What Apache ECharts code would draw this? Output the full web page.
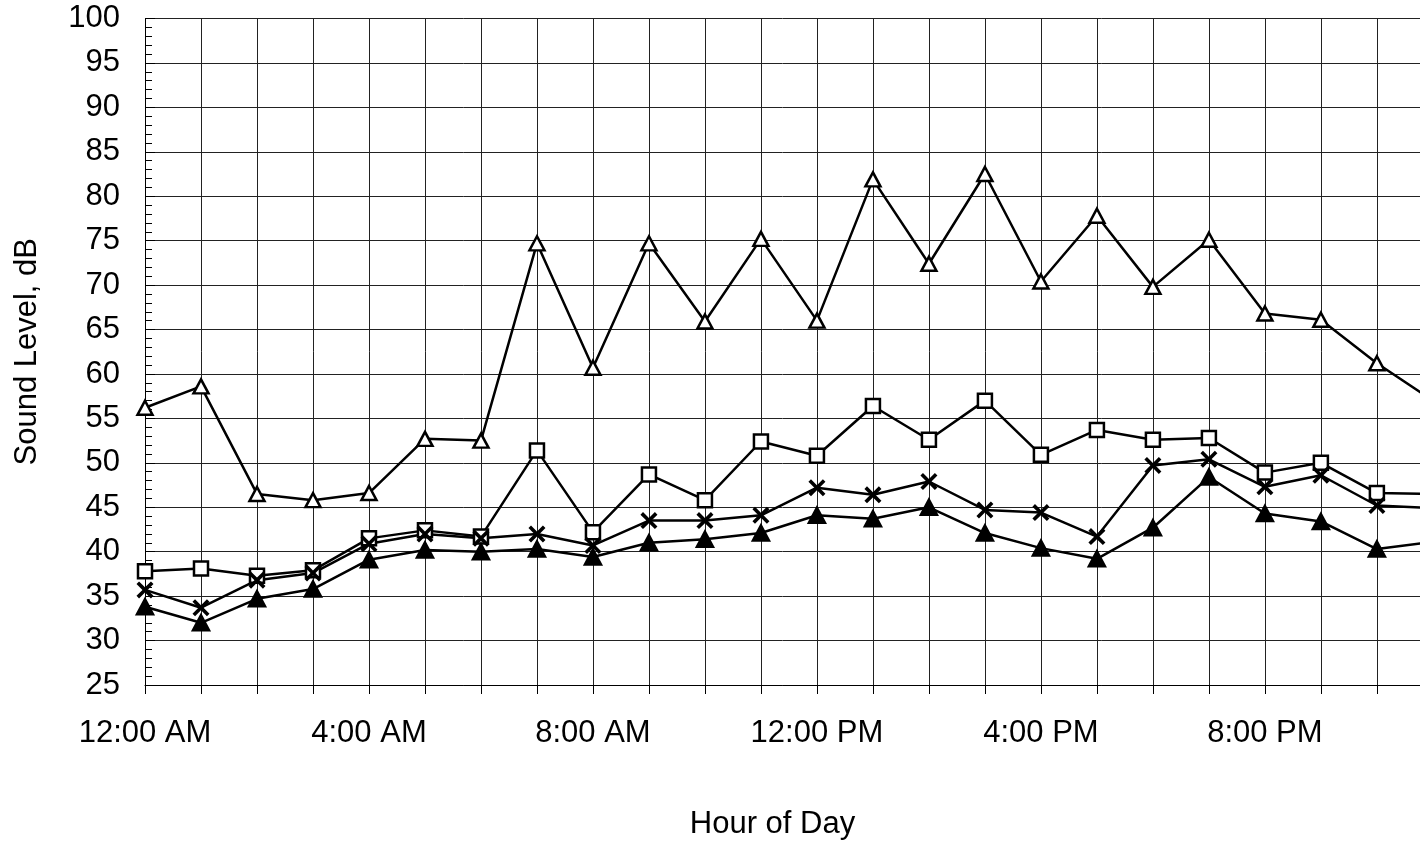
<!DOCTYPE html>
<html>
<head>
<meta charset="utf-8">
<title>Sound Level by Hour of Day</title>
<script src="https://cdn.jsdelivr.net/npm/echarts@6/dist/echarts.min.js"></script>
<style>
  html, body { margin: 0; padding: 0; background: #fff; }
  #chart { width: 1420px; height: 845px; }
</style>
</head>
<body>
<div id="chart"></div>
<script>
// Hours of the day, midnight through 11 PM
const hours = ['12:00 AM','1:00 AM','2:00 AM','3:00 AM','4:00 AM','5:00 AM','6:00 AM','7:00 AM',
  '8:00 AM','9:00 AM','10:00 AM','11:00 AM','12:00 PM','1:00 PM','2:00 PM','3:00 PM',
  '4:00 PM','5:00 PM','6:00 PM','7:00 PM','8:00 PM','9:00 PM','10:00 PM','11:00 PM'];

// Sound levels (dB) per hour
const levelOpenTriangle = [56.2, 58.6, 46.5, 45.8, 46.6, 52.7, 52.5, 74.7, 60.7, 74.7, 65.9, 75.2,
  66.0, 81.9, 72.4, 82.5, 70.4, 77.8, 69.8, 75.1, 66.8, 66.1, 61.2, 57.0];
const levelSquare = [37.8, 38.1, 37.3, 37.9, 41.5, 42.4, 41.7, 51.4, 42.2, 48.7, 45.8, 52.4,
  50.8, 56.4, 52.6, 57.0, 50.9, 53.7, 52.6, 52.8, 48.9, 50.0, 46.6, 46.5];
const levelCross = [35.7, 33.7, 36.8, 37.6, 40.9, 42.0, 41.5, 42.0, 40.7, 43.5, 43.5, 44.1,
  47.2, 46.4, 47.9, 44.7, 44.4, 41.7, 49.7, 50.4, 47.3, 48.6, 45.2, 44.9];
const levelFilledTriangle = [33.8, 32.0, 34.7, 35.8, 39.1, 40.2, 40.0, 40.3, 39.4, 41.0, 41.4, 42.1,
  44.1, 43.7, 45.0, 42.1, 40.4, 39.2, 42.7, 48.4, 44.3, 43.4, 40.3, 41.1];

// Y axis range and step
const yMin = 25, yMax = 100, yStep = 5;
// Visible hour span: the plot is cut at the right edge, a little before 11 PM
const xMin = 0, xMax = 22.77, xStep = 1, labelEvery = 4;

const FONT = "'Liberation Sans', Arial, Helvetica, sans-serif";
const crossPath = 'path://M0,1.5L1.5,0L5,3.5L8.5,0L10,1.5L6.5,5L10,8.5L8.5,10L5,6.5L1.5,10L0,8.5L3.5,5Z';

function lineSeries(name, values, symbol, fill, size) {
  return {
    name: name,
    type: 'line',
    data: values.map((v, i) => [i, v]),
    symbol: symbol,
    symbolSize: size,
    showSymbol: true,
    clip: true,
    lineStyle: { color: '#000', width: 2.5 },
    itemStyle: { color: fill, borderColor: '#000', borderWidth: symbol === crossPath ? 0 : 2.5 },
    emphasis: { disabled: true },
    z: 3
  };
}

function hourLabel(v) {
  return (Number.isInteger(v) && v % labelEvery === 0) ? hours[v] : '';
}

const chart = echarts.init(document.getElementById('chart'), null, { renderer: 'canvas' });
chart.setOption({
  animation: false,
  backgroundColor: '#fff',
  grid: { left: 145, top: 18.5, right: 0, bottom: 156, containLabel: false },
  xAxis: {
    type: 'value',
    min: xMin,
    max: xMax,
    interval: xStep,
    name: 'Hour of Day',
    nameLocation: 'middle',
    nameGap: 124,
    nameTextStyle: { fontFamily: FONT, fontSize: 31, color: '#000', padding: [0, 20, 0, 0] },
    axisLine: { show: true, lineStyle: { color: '#000', width: 1 } },
    axisTick: { show: true, inside: false, length: 9, lineStyle: { color: '#000' } },
    axisLabel: { margin: 33, fontFamily: FONT, fontSize: 31, color: '#000',
      showMinLabel: true, showMaxLabel: false, formatter: hourLabel },
    splitLine: { show: true, lineStyle: { color: '#222', width: 1 } }
  },
  yAxis: {
    type: 'value',
    min: yMin,
    max: yMax,
    interval: yStep,
    name: 'Sound Level, dB',
    nameLocation: 'middle',
    nameGap: 102,
    nameTextStyle: { fontFamily: FONT, fontSize: 31, color: '#000' },
    axisLine: { show: true, lineStyle: { color: '#000', width: 1 } },
    axisTick: { show: true, inside: true, length: 10, lineStyle: { color: '#000' } },
    minorTick: { show: true, splitNumber: 5, length: 7, lineStyle: { color: '#000' } },
    axisLabel: { margin: 25, padding: [8, 0, 0, 0], fontFamily: FONT, fontSize: 31, color: '#000' },
    splitLine: { show: true, lineStyle: { color: '#222', width: 1 } }
  },
  series: [
    lineSeries('Open triangle', levelOpenTriangle, 'triangle', '#fff', [15, 14]),
    lineSeries('Square', levelSquare, 'rect', '#fff', 14),
    lineSeries('Cross', levelCross, crossPath, '#000', 17),
    lineSeries('Filled triangle', levelFilledTriangle, 'triangle', '#000', [16, 15])
  ]
});
</script>
</body>
</html>
